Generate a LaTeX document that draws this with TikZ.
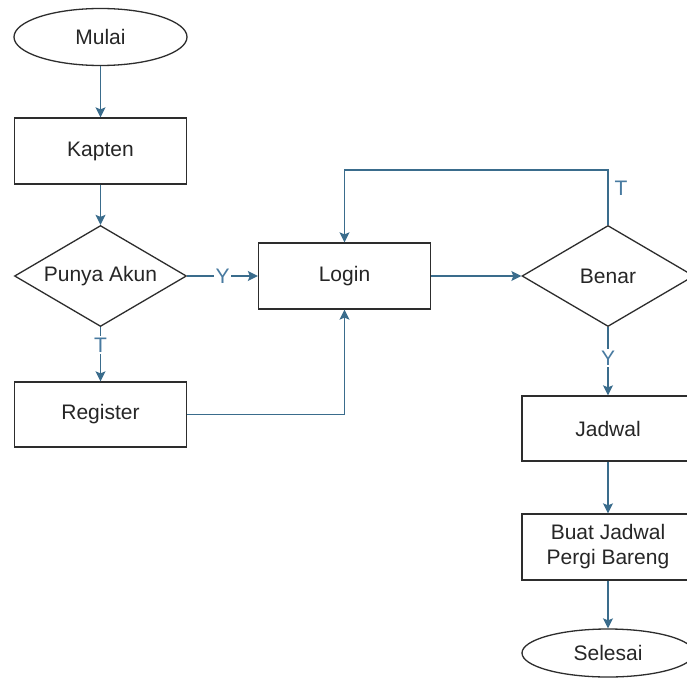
\documentclass[tikz,border=0pt]{standalone}
\usepackage{fontspec}
\setmainfont{Liberation Sans}
\usetikzlibrary{shapes.geometric,arrows.meta}
\definecolor{conn}{RGB}{58,108,140}
\definecolor{lbl}{RGB}{72,122,160}
\definecolor{outl}{RGB}{45,45,45}
\tikzset{
  base/.style={draw=outl, line width=1.3pt, inner sep=0pt, font=\fontsize{21}{25}\selectfont, text=black!85, align=center},
  procbox/.style={base, rectangle, minimum width=172pt, minimum height=66pt},
  termbox/.style={base, ellipse, minimum width=173pt, minimum height=57pt},
  decbox/.style={base, diamond, shape aspect=1.7, minimum width=172pt, minimum height=101pt},
  conline/.style={draw=conn, line width=1.3pt, -{Stealth[length=10pt,width=10pt,inset=2pt]}},
  lab/.style={fill=white, text=lbl, inner sep=1.5pt, font=\fontsize{21}{25}\selectfont}
}
\begin{document}
\begin{tikzpicture}[x=1pt,y=-1pt]
\useasboundingbox (0,0) rectangle (687,679);
\clip (0,0) rectangle (687,679);
\fill[white] (0,0) rectangle (687,679);
\node[termbox] (mulai) at (100.5,37) {Mulai};
\node[procbox] (kapten) at (100.5,151) {Kapten};
\node[decbox] (punya) at (100.5,276) {Punya Akun};
\node[procbox] (login) at (344.5,276) {Login};
\node[procbox, minimum height=65pt] (register) at (100.5,414.5) {Register};
\node[decbox] (benar) at (608,276) {Benar};
\node[procbox, minimum height=65pt] (jadwal) at (608,428.5) {Jadwal};
\node[procbox] (buat) at (608,547) {Buat Jadwal\\Pergi Bareng};
\node[termbox, minimum width=172pt, minimum height=48pt] (selesai) at (608,653) {Selesai};
\coordinate (c1) at (608,170);
\draw[conline] (mulai) -- (kapten);
\draw[conline] (kapten) -- (punya.north);
\draw[conline] (punya.east) -- node[lab]{Y} (login.west);
\draw[conline] (punya.south) -- node[lab, pos=0.33]{T} (register.north);
\draw[conline] (register.east) -| (login.south);
\draw[conline] (login.east) -- (benar.west);
\draw[conline] (benar.north) -- (c1) -| (login.north);
\node[text=lbl, font=\fontsize{21}{25}\selectfont, inner sep=0pt] (tlab) at (621,188) {T};
\draw[conline] (benar.south) -- node[lab, pos=0.45]{Y} (jadwal.north);
\draw[conline] (jadwal) -- (buat);
\draw[conline] (buat) -- (selesai);
\end{tikzpicture}
\end{document}
